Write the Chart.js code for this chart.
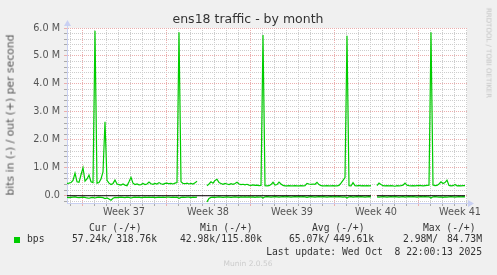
<!DOCTYPE html>
<html>
<head>
<meta charset="utf-8">
<script src="https://cdn.jsdelivr.net/npm/chart.js@4/dist/chart.umd.min.js"></script>
<style>
  html, body { margin:0; padding:0; background:#f0f0f0; }
  #wrap { position:relative; width:497px; height:275px; overflow:hidden; background:#f0f0f0; }
  #c { position:absolute; left:0; top:0; }
  .t { position:absolute; white-space:pre; line-height:1; }
  .mono { font-family:"DejaVu Sans Mono", monospace; font-size:9.7px; color:#333; transform:translateY(-50%); }
</style>
</head>
<body>
<div id="wrap">
  <canvas id="c" width="497" height="275"></canvas>
  <div class="t" style="left:248px;top:19px;transform:translate(-50%,-50%);font-family:'DejaVu Sans';font-size:12.5px;color:#333;">ens18 traffic - by month</div>
  <div class="t" style="left:11px;top:115px;transform:translate(-50%,-50%) rotate(-90deg);font-family:'DejaVu Sans';font-size:10.8px;color:#555;">bits in (-) / out (+) per second</div>
  <div class="t" style="left:488px;top:53px;transform:translate(-50%,-50%) rotate(90deg);font-family:'DejaVu Sans';font-size:7px;color:#c4c4c4;">RRDTOOL / TOBI OETIKER</div>

  <div class="t mono" style="left:89px;top:228px;">Cur (-/+)</div>
  <div class="t mono" style="left:200px;top:228px;">Min (-/+)</div>
  <div class="t mono" style="left:312px;top:228px;">Avg (-/+)</div>
  <div class="t mono" style="left:423px;top:228px;">Max (-/+)</div>

  <div style="position:absolute;left:14px;top:237px;width:6px;height:6px;background:#00cc00;"></div>
  <div class="t mono" style="left:27px;top:239px;">bps</div>
  <div class="t mono" style="left:72px;top:239px;">57.24k/</div>
  <div class="t mono" style="right:340px;top:239px;">318.76k</div>
  <div class="t mono" style="left:180px;top:239px;">42.98k/</div>
  <div class="t mono" style="right:235px;top:239px;">115.80k</div>
  <div class="t mono" style="left:289px;top:239px;">65.07k/</div>
  <div class="t mono" style="right:123px;top:239px;">449.61k</div>
  <div class="t mono" style="left:403px;top:239px;">2.98M/</div>
  <div class="t mono" style="right:15px;top:239px;">84.73M</div>

  <div class="t mono" style="right:15px;top:252px;">Last update: Wed Oct  8 22:00:13 2025</div>
  <div class="t" style="left:248px;top:264px;transform:translate(-50%,-50%);font-family:'DejaVu Sans';font-size:7.5px;color:#cccccc;">Munin 2.0.56</div>
</div>
<script>
// ---- data (Mbit/s), one sample every 4 hours over the month ----
const sampleStepHours = 4;
const outMbps = [
  0.44,0.45,0.47,0.55,0.81,0.50,0.48,0.75,1.00,0.52,
  0.60,0.74,0.50,0.47,5.90,0.45,0.47,0.60,0.85,2.65,
  0.55,0.45,0.40,0.44,0.56,0.42,0.40,0.38,0.42,0.38,
  0.36,0.50,0.66,0.45,0.40,0.42,0.39,0.40,0.44,0.40,
  0.42,0.49,0.43,0.41,0.44,0.42,0.47,0.43,0.41,0.44,
  0.45,0.43,0.44,0.42,0.45,0.47,5.85,0.50,0.44,0.43,
  0.45,0.42,0.44,0.42,0.46,0.52,null,null,null,null,
  0.36,0.42,0.50,0.45,0.55,0.59,0.47,0.44,0.41,0.44,
  0.42,0.40,0.43,0.41,0.44,0.48,0.42,0.40,0.41,0.39,
  0.41,0.38,0.37,0.39,0.37,0.38,0.36,0.37,5.75,0.36,
  0.35,0.36,0.40,0.48,0.38,0.40,0.49,0.42,0.37,0.35,
  0.35,0.36,0.35,0.35,0.36,0.35,0.35,0.36,0.35,0.36,
  0.44,0.42,0.41,0.42,0.41,0.48,0.40,0.36,0.35,0.35,
  0.36,0.35,0.35,0.36,0.35,0.35,0.37,0.45,0.55,0.65,
  5.72,0.36,0.35,0.47,0.36,0.35,0.37,0.35,0.36,0.35,
  0.36,0.35,0.36,null,null,0.36,0.45,0.40,0.36,0.35,
  0.36,0.35,0.36,0.35,0.34,0.36,0.35,0.36,0.38,0.45,
  0.38,0.36,0.35,0.36,0.35,0.36,0.37,0.36,0.35,0.36,
  0.37,0.38,5.85,0.38,0.36,0.37,0.42,0.50,0.44,0.47,
  0.56,0.37,0.35,0.36,0.40,0.35,0.36,0.35,0.36,0.36
];
const inMbps = [
  -0.06,-0.07,-0.06,-0.05,-0.04,-0.06,-0.07,-0.06,-0.05,-0.06,
  -0.08,-0.09,-0.07,-0.06,-0.08,-0.06,-0.05,-0.06,-0.07,-0.10,
  -0.08,-0.12,-0.16,-0.09,-0.06,-0.07,-0.06,-0.05,-0.06,-0.07,
  -0.05,-0.06,-0.08,-0.06,-0.05,-0.06,-0.05,-0.07,-0.06,-0.05,
  -0.06,-0.05,-0.06,-0.05,-0.07,-0.06,-0.05,-0.06,-0.05,-0.06,
  -0.05,-0.05,-0.06,-0.05,-0.06,-0.05,-0.09,-0.06,-0.05,-0.06,
  -0.05,-0.05,-0.07,-0.05,-0.06,-0.05,null,null,null,null,
  -0.22,-0.10,-0.06,-0.05,-0.06,-0.05,-0.04,-0.05,-0.06,-0.05,
  -0.04,-0.05,-0.06,-0.05,-0.04,-0.05,-0.06,-0.04,-0.05,-0.04,
  -0.05,-0.04,-0.05,-0.04,-0.06,-0.04,-0.05,-0.04,-0.08,-0.04,
  -0.03,-0.04,-0.05,-0.04,-0.03,-0.04,-0.05,-0.04,-0.03,-0.04,
  -0.03,-0.04,-0.05,-0.04,-0.03,-0.04,-0.03,-0.04,-0.03,-0.04,
  -0.06,-0.04,-0.03,-0.04,-0.05,-0.04,-0.03,-0.04,-0.03,-0.04,
  -0.05,-0.04,-0.03,-0.04,-0.03,-0.04,-0.03,-0.04,-0.05,-0.04,
  -0.08,-0.04,-0.03,-0.05,-0.04,-0.03,-0.04,-0.03,-0.04,-0.05,
  -0.04,-0.03,-0.04,null,null,-0.04,-0.05,-0.04,-0.03,-0.04,
  -0.05,-0.04,-0.03,-0.04,-0.03,-0.04,-0.05,-0.04,-0.03,-0.05,
  -0.04,-0.03,-0.04,-0.03,-0.04,-0.05,-0.04,-0.03,-0.04,-0.03,
  -0.04,-0.04,-0.08,-0.04,-0.03,-0.04,-0.05,-0.04,-0.06,-0.04,
  -0.05,-0.04,-0.03,-0.04,-0.05,-0.04,-0.03,-0.04,-0.03,-0.04
];
const unknownSamples = [153, 154];   // samples where the zero rule is not drawn

// ---- axes / ticks (hours from start of graph) ----
const xMaxHours = 800;
const weekLabels = ['Week 37','Week 38','Week 39','Week 40','Week 41'];
const weekLabelHours = [114, 282, 450, 618, 786];
const weekGridHours = [30, 198, 366, 534, 702];
const dayGridHours = [6,30,54,78,102,126,150,174,198,222,246,270,294,318,342,366,390,414,438,462,486,510,534,558,582,606,630,654,678,702,726,750,774,798];
const yMin = -0.26, yMax = 6.0;
const yMajorValues = [0,1,2,3,4,5,6];
const yTickLabels = ['0.0','1.0 M','2.0 M','3.0 M','4.0 M','5.0 M','6.0 M'];
const yMinorValues = [-0.2,0,0.2,0.4,0.6,0.8,1,1.2,1.4,1.6,1.8,2,2.2,2.4,2.6,2.8,3,3.2,3.4,3.6,3.8,4,4.2,4.4,4.6,4.8,5,5.2,5.4,5.6,5.8,6];

const GREEN = '#00cc00', RED_GRID = '#ebaeae', GRAY_GRID = '#cdcdcd', AXIS = '#c9d0f2';

const toXY = arr => arr.map((v, i) => ({ x: i * sampleStepHours, y: v }));
const zeroRule = inMbps.map((v, i) => ({ x: i * sampleStepHours, y: unknownSamples.includes(i) ? null : 0 }));

const xTickValues = [...new Set([...dayGridHours, ...weekLabelHours])].sort((a, b) => a - b);

const bgAndArrows = {
  id: 'bgAndArrows',
  beforeDraw(chart) {
    const { ctx, chartArea: a } = chart;
    ctx.save();
    ctx.fillStyle = '#ffffff';
    ctx.fillRect(a.left, a.top, a.right - a.left, a.bottom - a.top);
    ctx.restore();
  },
  afterDraw(chart) {
    const { ctx, chartArea: a } = chart;
    ctx.save();
    ctx.strokeStyle = AXIS; ctx.fillStyle = AXIS; ctx.lineWidth = 1;
    ctx.beginPath(); ctx.moveTo(a.left + 0.5, a.top); ctx.lineTo(a.left + 0.5, a.top - 3); ctx.stroke();
    ctx.beginPath(); ctx.moveTo(a.left - 3, a.top - 2); ctx.lineTo(a.left + 4, a.top - 2); ctx.lineTo(a.left + 0.5, a.top - 8); ctx.closePath(); ctx.fill();
    ctx.beginPath(); ctx.moveTo(a.right, a.bottom + 0.5); ctx.lineTo(a.right + 2, a.bottom + 0.5); ctx.stroke();
    ctx.beginPath(); ctx.moveTo(a.right + 1, a.bottom - 3); ctx.lineTo(a.right + 1, a.bottom + 4); ctx.lineTo(a.right + 7, a.bottom + 0.5); ctx.closePath(); ctx.fill();
    ctx.restore();
  }
};

new Chart(document.getElementById('c'), {
  type: 'line',
  data: {
    datasets: [
      { data: zeroRule, borderColor: '#000000', borderWidth: 1, pointRadius: 0, spanGaps: false },
      { data: toXY(outMbps), borderColor: GREEN, borderWidth: 1.2, pointRadius: 0, spanGaps: false, tension: 0 },
      { data: toXY(inMbps), borderColor: GREEN, borderWidth: 1.2, pointRadius: 0, spanGaps: false, tension: 0 }
    ]
  },
  plugins: [bgAndArrows],
  options: {
    responsive: false, animation: false, devicePixelRatio: 1,
    layout: { padding: { left: 0, right: 30, top: 28, bottom: 0 } },
    plugins: { legend: { display: false }, tooltip: { enabled: false }, title: { display: false } },
    scales: {
      x: {
        type: 'linear', min: 0, max: xMaxHours,
        afterFit(s) { s.height = 72; },
        afterBuildTicks(s) { s.ticks = xTickValues.map(v => ({ value: v })); },
        ticks: {
          autoSkip: false, maxRotation: 0, minRotation: 0, padding: 1,
          font: { family: 'DejaVu Sans', size: 9.7 }, color: '#555',
          callback(v) { const k = weekLabelHours.indexOf(v); return k >= 0 ? weekLabels[k] : ''; }
        },
        grid: {
          drawTicks: true, tickLength: 3,
          color(c) { const v = c.tick && c.tick.value; if (weekLabelHours.includes(v)) return 'rgba(0,0,0,0)'; return weekGridHours.includes(v) ? RED_GRID : GRAY_GRID; },
          tickColor(c) { const v = c.tick && c.tick.value; if (weekLabelHours.includes(v)) return 'rgba(0,0,0,0)'; return weekGridHours.includes(v) ? RED_GRID : '#aaaaaa'; }
        },
        border: { display: true, color: AXIS, width: 1, dash: [1, 1] }
      },
      y: {
        type: 'linear', min: yMin, max: yMax,
        afterFit(s) { s.width = 67; },
        afterBuildTicks(s) { s.ticks = yMinorValues.map(v => ({ value: v })); },
        ticks: {
          autoSkip: false, padding: 4,
          font: { family: 'DejaVu Sans', size: 9.7 }, color: '#555',
          callback(v) { const k = yMajorValues.indexOf(v); return k >= 0 ? yTickLabels[k] : ''; }
        },
        grid: {
          drawTicks: true, tickLength: 3,
          color(c) { const v = c.tick && c.tick.value; return yMajorValues.includes(v) ? RED_GRID : GRAY_GRID; },
          tickColor(c) { const v = c.tick && c.tick.value; return yMajorValues.includes(v) ? RED_GRID : '#aaaaaa'; }
        },
        border: { display: true, color: AXIS, width: 1, dash: [1, 1] }
      }
    }
  }
});
</script>
</body>
</html>
